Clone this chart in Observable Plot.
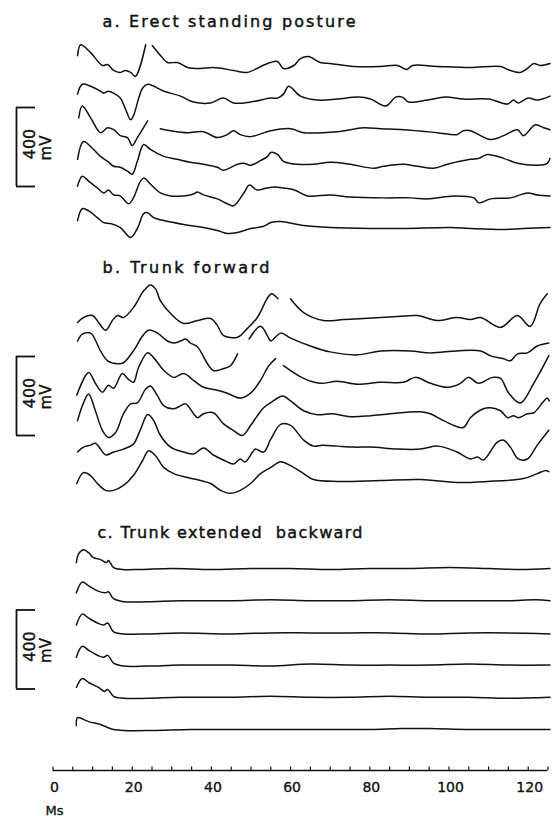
<!DOCTYPE html>
<html><head><meta charset="utf-8">
<script src="https://cdn.jsdelivr.net/npm/d3@7"></script>
<script src="https://cdn.jsdelivr.net/npm/@observablehq/plot@0.6"></script>
<style>html,body{margin:0;padding:0;background:#fff}svg{display:block}</style>
</head><body><div id="chart"></div>
<script>
// ---------- data ----------
const panelTitles = ["a. Erect standing posture", "b. Trunk forward", "c. Trunk extended  backward"];
const xTickLabels = [0, 20, 40, 60, 80, 100, 120];
const minorTicks = [0,5,10,15,20,25,30,35,40,45,50,55,60,65,70,75,80,85,90,95,100,105,110,115,120,125];
const xLabel = "Ms";
const scaleValue = 400, scaleUnit = "mV";

// traces: [time ms, mV relative to baseline]; null = break in trace
const a1 = [[6.2,50],[7,105],[9.5,65],[12.5,0],[13.8,5],[15.3,-25],[17,-35],[18.3,-25],[19.6,-35],[20.8,-55],[23.4,105],[24.3,null],[25.1,100],[27.6,40],[28.9,15],[31.4,15],[34,-10],[37.2,-15],[40.5,-10],[45.6,-25],[49,-35],[53,0],[54.9,15],[56.7,20],[58.2,-15],[60.8,0],[62.5,35],[64.5,45],[67.5,15],[70,10],[76,-5],[82.7,-5],[87,0],[89.3,-20],[90.8,0],[97,-5],[105.4,-10],[113,-5],[114.8,-20],[118,-35],[119.8,-15],[121.4,10],[123,0],[125.5,10]];
const a2 = [[6.2,20],[7.4,70],[9.5,60],[12,35],[12.8,25],[14,35],[15.3,25],[17,0],[18.3,-55],[19.6,-110],[20.3,-90],[22.6,50],[23.9,70],[28,35],[32.2,10],[35.5,-20],[39.8,-25],[43,0],[45.6,-25],[49.9,-20],[55,0],[56.7,0],[58.2,20],[59.5,60],[62.5,10],[66.8,-10],[71.8,-5],[77.1,5],[80.2,-5],[84,-40],[86.5,5],[88.2,5],[89.8,-20],[94.6,-10],[99.1,5],[103.6,-5],[110,-5],[114.8,-30],[116.3,-10],[117.5,-25],[120,0],[122.3,-10],[125.5,10]];
const a3 = [[6.5,65],[7.4,125],[9.5,65],[12,-10],[13.8,15],[15.3,5],[17,-25],[18.8,-35],[20,-75],[21.3,-35],[23.9,50],[25,null],[27.1,10],[29.7,0],[34,-10],[38,-5],[41.5,-35],[44,-20],[45.6,0],[47.3,-20],[49.9,-30],[55,0],[60,10],[63.3,-10],[71.8,-5],[78.4,15],[82.7,10],[88.5,5],[97,-10],[102,-20],[103.6,0],[105.4,0],[110.5,-45],[113.8,-25],[117.3,5],[118.8,-25],[121.8,30],[123.9,15],[125.5,5]];
const a4 = [[6.2,20],[7.7,110],[10,75],[12,35],[13.8,10],[15.3,-15],[17,-20],[18.8,-40],[20,-55],[21.3,10],[22.9,95],[24.6,70],[28,35],[31.4,20],[34.7,5],[38,-5],[41.5,-20],[43,-35],[46.6,-5],[48.2,0],[49.9,-10],[52.5,15],[54.2,35],[55,55],[56.7,45],[58.2,10],[61.7,-5],[65.8,-5],[70,5],[75,-5],[81,-25],[83.5,-15],[88.5,-5],[92,-15],[96.1,-25],[99.6,-5],[105.4,20],[107.5,25],[109.7,45],[113.8,25],[117.3,0],[122.3,-10],[124.8,0],[125.5,25]];
const a5 = [[6.2,50],[7.4,100],[9,75],[11.2,40],[12.8,15],[14,30],[15.3,5],[17,0],[19.1,-40],[20.3,-10],[22.1,75],[22.9,90],[24.6,60],[27.1,15],[29.7,0],[33,0],[35.5,10],[36.5,20],[38,5],[41.5,-15],[44,-40],[45.6,-50],[48.2,15],[49.6,55],[51.5,30],[54,40],[56,45],[58.2,40],[61,30],[64.3,0],[70,5],[75,-5],[83.5,-10],[90.3,-10],[94.6,-15],[101.3,0],[106.3,-10],[107.5,-35],[110.5,-15],[115.5,-10],[119.8,15],[122.3,5],[125.5,0]];
const a6 = [[6.2,40],[7.4,100],[9,90],[11.2,55],[12.8,30],[14.5,25],[17,5],[19.6,-45],[21.3,0],[22.9,75],[23.9,80],[25.4,55],[28,40],[33,20],[38,5],[41.5,-10],[44,-25],[46.6,-20],[49.9,0],[53,10],[55,30],[57.5,35],[63.3,15],[70,5],[80.2,0],[88.5,0],[100.4,5],[105.4,0],[113.8,-5],[118.8,0],[125.5,5]];

const b1 = [[6.2,-20],[7.7,5],[10,15],[11.5,-20],[13.3,-60],[15,-10],[16.3,15],[17.8,5],[20.3,55],[22.9,140],[24.6,170],[25.9,150],[27.1,90],[29.7,25],[33,-25],[36.5,-10],[39.8,0],[41.5,-35],[43,-85],[46.6,-95],[49.1,-50],[51.6,5],[54.2,105],[55.2,125],[56.8,100],[57.5,null],[60,100],[63.3,30],[68.3,-10],[73.4,-5],[78.4,0],[87,10],[92,15],[97,-10],[102,5],[105.4,-5],[108,5],[113,-45],[117.3,15],[120.5,-40],[123,75],[124.8,125]];
const b2 = [[6.2,50],[7.4,85],[9.5,90],[12,0],[13.8,-50],[16.3,-65],[17.8,-60],[20.3,0],[22.6,75],[24.1,105],[26.4,90],[28.9,50],[30.5,40],[32.2,50],[33.5,60],[34.7,40],[36.5,20],[39,-65],[40.5,-100],[43,-90],[44.8,-75],[46.6,-15],[47.5,null],[49.5,60],[52.4,125],[54.2,75],[55,50],[57.5,90],[60,65],[65,25],[70,-5],[76.9,-20],[82.7,0],[90.3,0],[95.3,-10],[102,0],[108,0],[110.5,-25],[113.8,-40],[115.5,-50],[117.3,-15],[119.8,-10],[122.3,25],[125.2,40]];
const b3 = [[6,-60],[9,55],[10.7,0],[12.5,-45],[14,-10],[15.3,-25],[17.5,50],[18.8,25],[20.3,5],[21.6,80],[23.9,155],[25.4,130],[28,65],[30.5,30],[33,50],[35.5,15],[38,-20],[41.5,-35],[44,-50],[47.3,-75],[49.9,-50],[52.4,15],[54.2,80],[55.2,105],[56.2,125],[57,null],[58.2,90],[63.3,25],[67.5,0],[71.8,10],[76.9,-5],[82.7,5],[88.5,5],[91.5,30],[95.3,0],[99.6,-20],[102.9,0],[104.9,30],[107.5,0],[111,30],[113,25],[115.1,-50],[118,-100],[121.4,0],[125.2,140]];
const b4 = [[6.2,-25],[7.7,65],[9,110],[10.7,25],[12.5,-75],[14,-110],[15.8,-85],[17.8,10],[19.6,60],[21.3,65],[23.4,135],[24.6,150],[26.4,100],[28,50],[30.5,35],[32.2,50],[33.5,60],[35.5,10],[36.5,-10],[38,10],[40.5,15],[43,-40],[45.6,-75],[47.8,-100],[49.9,-50],[51.6,0],[53.2,40],[54.9,65],[58,100],[60,75],[63.3,25],[66.8,5],[70.6,10],[75.1,-5],[80.2,0],[85.2,10],[92.8,20],[95.3,10],[98.6,-25],[103.6,-60],[105.4,-10],[108.7,35],[110.5,40],[113,25],[114.8,-10],[116.3,0],[117.5,-10],[119.8,10],[121.4,15],[123.6,65],[124.8,90],[125.3,75]];
const b5 = [[6.2,-20],[7.7,5],[9.5,15],[10.7,25],[12,-5],[13.3,-35],[15.3,-20],[17.8,-5],[20.3,20],[22.1,95],[23.9,170],[25.4,140],[27.1,65],[29.7,5],[33,-20],[35.5,-30],[38,0],[40.5,-35],[43,-60],[45.6,-80],[47.3,-55],[48.5,-70],[50.4,-20],[51.1,-5],[53.2,-20],[55,45],[57.5,120],[60,115],[63.3,40],[65.8,10],[68,15],[71.8,10],[76,5],[80.2,5],[87,-5],[92.8,-5],[97.3,10],[102,-20],[105.4,-55],[107.2,-45],[108.7,-60],[112.2,30],[113.8,40],[115.5,5],[117.5,-55],[119.8,-55],[122.3,15],[125.2,90]];
const b6 = [[6,-15],[7.7,40],[9.5,25],[11.2,-15],[13.3,-50],[15.3,-50],[17.8,-25],[20.3,25],[22.6,100],[24.1,150],[25.9,125],[28,65],[30.5,35],[34,15],[37.2,0],[39.8,-15],[42.3,-50],[44.8,-65],[47.3,-50],[49.9,-15],[52.4,35],[54.9,65],[57.5,95],[60,75],[63.3,35],[65.8,5],[71.8,-5],[82.7,0],[92.8,5],[102,-10],[109.7,-5],[118.8,10],[122.3,35],[124.3,50],[125.2,45]];

const c1 = [[5.9,30],[6.5,75],[7.7,95],[9,80],[10.2,55],[12,45],[13.5,30],[14,40],[15.3,5],[17.5,-5],[22,-5],[30,0],[40,-5],[50,0],[60,0],[70,-5],[80,0],[90,0],[100,5],[110,0],[118,-5],[125.5,0]];
const c2 = [[5.9,40],[7.4,95],[9,75],[11.2,50],[13.3,40],[14,45],[15.3,10],[17.8,-5],[24,-5],[32,0],[45,0],[55,5],[65,0],[75,0],[85,5],[95,0],[105,0],[115,0],[122,5],[125.5,0]];
const c3 = [[5.9,40],[7.4,95],[9,75],[11.2,50],[12.8,40],[13.8,50],[15.3,5],[17.8,-5],[24,-5],[32,0],[45,-5],[55,0],[65,0],[75,0],[85,0],[95,-5],[105,0],[115,0],[125.5,-5]];
const c4 = [[5.9,40],[7.4,95],[9,75],[11.2,50],[12.8,40],[13.8,50],[15.3,10],[17.8,-5],[24,-5],[32,0],[45,0],[55,-5],[65,5],[75,0],[85,0],[95,0],[105,5],[115,0],[125.5,0]];
const c5 = [[5.9,50],[7.4,95],[9,75],[11.5,50],[13,30],[13.8,40],[15.3,5],[17.8,-5],[24,-5],[32,0],[45,0],[55,5],[65,0],[75,0],[85,5],[95,0],[105,0],[115,-5],[125.5,0]];
const c6 = [[5.9,20],[6.2,60],[9,40],[12,25],[13.8,10],[15.3,0],[17.8,-5],[25,-5],[35,0],[50,0],[65,0],[80,0],[88,5],[95,5],[105,0],[115,0],[125.5,0]];

// ---------- layout ----------
const W = 553, H = 816, AXIS_Y = 770;
const PX_PER_MV = 79 / scaleValue;
const yMax = AXIS_Y / PX_PER_MV;
const pxToMv = px => (AXIS_Y - px) / PX_PER_MV;
const msPerPx = 125 / (W - 52.5 - 5.5);
const pxToMs = px => (px - 52.5) * msPerPx;

const panels = [
  {title: panelTitles[0], traces: [a1,a2,a3,a4,a5,a6], basePx: 65,  gapPx: 32.6, titleX: 102, titleY: 26,  titleLen: 253, barMid: 146.5},
  {title: panelTitles[1], traces: [b1,b2,b3,b4,b5,b6], basePx: 318, gapPx: 32.4, titleX: 102, titleY: 272, titleLen: 167, barMid: 395.5},
  {title: panelTitles[2], traces: [c1,c2,c3,c4,c5,c6], basePx: 568, gapPx: 32.2, titleX: 97,  titleY: 537, titleLen: 265, barMid: 649}
];

const rows = [];
panels.forEach((p, pi) => p.traces.forEach((tr, i) => {
  const off = pxToMv(p.basePx + i * p.gapPx);
  tr.forEach(([t, v]) => rows.push({id: pi + "-" + i, t, v: v == null ? NaN : off + v}));
}));

const bars = panels.map(p => ({mid: pxToMv(p.barMid)}));
const halfBar = scaleValue / 2;
const barX = pxToMs(16), barTickX = pxToMs(35);
const tickH = 3.5 / PX_PER_MV;

const font = "DejaVu Sans, Verdana, sans-serif";

const chart = Plot.plot({
  width: W, height: H,
  marginLeft: 52.5, marginRight: 5.5, marginTop: 0, marginBottom: H - AXIS_Y,
  style: {fontFamily: font, background: "#fff", color: "#111"},
  x: {domain: [0, 125], axis: null},
  y: {domain: [0, yMax], axis: null},
  marks: [
    Plot.line(rows, {x: "t", y: "v", z: "id", stroke: "#111", strokeWidth: 1.5, curve: "catmull-rom"}),
    // titles
    Plot.text(panels, {x: p => pxToMs(p.titleX), y: p => pxToMv(p.titleY), text: "title", textAnchor: "start", lineAnchor: "bottom", fontSize: 16, fill: "#111", stroke: "#111", strokeWidth: 0.45}),
    // scale bars
    Plot.ruleX(bars, {x: barX, y1: d => d.mid - halfBar, y2: d => d.mid + halfBar, stroke: "#111", strokeWidth: 1.8}),
    Plot.ruleY(bars, {y: d => d.mid + halfBar, x1: barX, x2: barTickX, stroke: "#111", strokeWidth: 1.8}),
    Plot.ruleY(bars, {y: d => d.mid - halfBar, x1: barX, x2: barTickX, stroke: "#111", strokeWidth: 1.8}),
    Plot.text(bars, {x: pxToMs(29), y: d => d.mid + 3 / PX_PER_MV, text: () => String(scaleValue), rotate: -90, fontSize: 16, fill: "#111", stroke: "#111", strokeWidth: 0.4}),
    Plot.text(bars, {x: pxToMs(45.5), y: d => d.mid - 1 / PX_PER_MV, text: () => scaleUnit, rotate: -90, fontSize: 15, fill: "#111", stroke: "#111", strokeWidth: 0.4}),
    // time axis
    Plot.ruleY([0], {x1: 0, x2: 125, stroke: "#111", strokeWidth: 1.3}),
    Plot.ruleX(minorTicks, {x: d => d, y1: 0, y2: tickH, stroke: "#111", strokeWidth: 1.2}),
    Plot.text(xTickLabels, {x: d => d, y: pxToMv(791), dx: 1.5, text: d => String(d), lineAnchor: "bottom", fontSize: 14, fill: "#111", stroke: "#111", strokeWidth: 0.35}),
    Plot.text([xLabel], {x: pxToMs(45), y: pxToMv(814), text: d => d, textAnchor: "start", lineAnchor: "bottom", fontSize: 13, fill: "#111", stroke: "#111", strokeWidth: 0.35})
  ]
});

// stretch the titles to their printed widths
d3.select(chart).selectAll("text").each(function() {
  const p = panels.find(q => q.title === this.textContent);
  if (p) {
    this.setAttribute("textLength", p.titleLen);
    this.setAttribute("lengthAdjust", "spacing");
    this.style.whiteSpace = "pre";
  }
});
document.getElementById("chart").append(chart);
</script>
</body></html>
